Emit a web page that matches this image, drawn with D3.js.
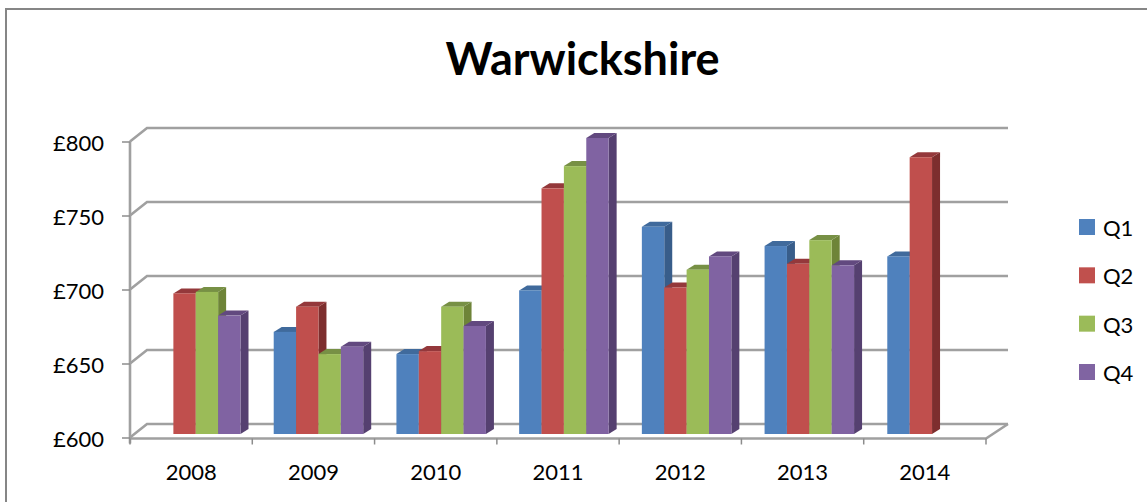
<!DOCTYPE html>
<html>
<head>
<meta charset="utf-8">
<script src="https://cdnjs.cloudflare.com/ajax/libs/d3/7.8.5/d3.min.js"></script>
<style>
    html, body { margin: 0; padding: 0; background: #fff; }
    svg { display: block; }
    text { font-family: Lato, "Open Sans", sans-serif; fill: #000; }
</style>
</head>
<body>
<div id="chart"></div>
<script>
var years = ['2008', '2009', '2010', '2011', '2012', '2013', '2014'];
var quarters = ['Q1', 'Q2', 'Q3', 'Q4'];
var yTicks = [600, 650, 700, 750, 800];

// null = no bar
var q1 = [null, 669, 654, 697, 740, 727, 720];
var q2 = [695, 686, 656, 766, 699, 715, 787];
var q3 = [696, 654, 686, 781, 711, 731, null];
var q4 = [680, 659, 673, 800, 720, 714, null];

var frontColors = ['#4f81bd', '#c0504d', '#9bbb59', '#8064a2'];
var sideColors = ['#385d8a', '#7d2f2d', '#6e8439', '#55406f'];
var topColors = ['#3f6a9c', '#94393a', '#779044', '#62497f'];

var width = 1147, height = 502;
var depthX = 17, depthY = 13.5;   // wall offset of the 3d box
var barDepthX = 8, barDepthY = 5; // depth of a single bar

var svg = d3.select('#chart').append('svg').attr('width', width).attr('height', height);

var defs = svg.append('defs');
defs.append('filter').attr('id', 'soft')
    .attr('x', '-2%').attr('y', '-2%').attr('width', '104%').attr('height', '104%')
    .append('feGaussianBlur').attr('stdDeviation', 0.7);

// outer chart frame, cut off by the screenshot on right and bottom
svg.append('path')
    .attr('d', d3.line()([[6, height], [6, 9], [width, 9]]))
    .attr('fill', 'none').attr('stroke', '#868686').attr('stroke-width', 2);

var x = d3.scaleBand().domain(years).range([130, 986]);
var y = d3.scaleLinear().domain([600, 800]).range([437.5, 141.5]);

// bars sit slightly inside the box, so they get their own scales
var xBars = d3.scaleBand().domain(years).range([151, 1010]);
var xQuarter = d3.scaleBand().domain(quarters).range([0, 89.5]);
var yBar = d3.scaleLinear().domain([600, 800]).range([434, 138]);

var plot = svg.append('g').attr('filter', 'url(#soft)');

// gridlines on back wall and floor
var grid = plot.append('g').attr('stroke', '#a0a0a0').attr('stroke-width', 2.6).attr('fill', 'none');
grid.selectAll('path')
    .data(yTicks)
    .enter()
    .append('path')
    .attr('d', function (d) {
        return d3.line()([
            [x.range()[0], y(d)],
            [x.range()[0] + depthX, y(d) - depthY],
            [x.range()[1] + depthX + 5, y(d) - depthY]
        ]);
    });

// floor front edge and right edge
grid.append('path').attr('d', d3.line()([
    [x.range()[0], y(600) + 1],
    [x.range()[1], y(600) + 1],
    [x.range()[1] + depthX + 5, y(600) - depthY]
]));

// left wall
grid.append('path').attr('d', d3.line()([[x.range()[0], y(800)], [x.range()[0], y(600) + 6]]));

// ticks on the category axis
plot.append('g').selectAll('line')
    .data(years.concat(['end']))
    .enter()
    .append('line')
    .attr('x1', function (d, i) { return x.range()[0] + i * x.step(); })
    .attr('x2', function (d, i) { return x.range()[0] + i * x.step(); })
    .attr('y1', y(600) + 1)
    .attr('y2', y(600) + 7)
    .attr('stroke', '#8c8c8c').attr('stroke-width', 1.5);

// y axis, only ticks and labels are needed from it
var yAxis = d3.axisLeft(y)
    .tickValues(yTicks)
    .tickSize(8)
    .tickPadding(18)
    .tickFormat(function (d) { return '£' + d; });
var yG = svg.append('g').attr('transform', 'translate(130,0)').call(yAxis);
yG.select('.domain').remove();
yG.selectAll('line').attr('stroke', '#8c8c8c').attr('stroke-width', 1.5);
yG.selectAll('text').attr('font-size', 22).attr('font-family', null).attr('dy', '0.4em').attr('x', -26);

var xAxis = d3.axisBottom(x).tickSize(0).tickPadding(27);
var xG = svg.append('g').attr('transform', 'translate(0,' + y(600) + ')').call(xAxis);
xG.select('.domain').remove();
xG.selectAll('text').attr('font-size', 22).attr('font-family', null);

// bars
var rows = [q1, q2, q3, q4];
var barData = [];
years.forEach(function (year, i) {
    quarters.forEach(function (q, j) {
        if (rows[j][i] !== null) {
            barData.push({year: year, quarter: q, index: j, value: rows[j][i]});
        }
    });
});

var bars = plot.append('g').selectAll('g')
    .data(barData)
    .enter()
    .append('g');

function barLeft(d) { return xBars(d.year) + xQuarter(d.quarter); }

bars.append('path')
    .attr('fill', function (d) { return sideColors[d.index]; })
    .attr('d', function (d) {
        var right = barLeft(d) + xQuarter.bandwidth();
        var top = yBar(d.value), base = yBar(600);
        return d3.line()([[right, top], [right + barDepthX, top - barDepthY],
            [right + barDepthX, base - barDepthY], [right, base]]) + 'Z';
    });

bars.append('path')
    .attr('fill', function (d) { return topColors[d.index]; })
    .attr('d', function (d) {
        var left = barLeft(d), right = left + xQuarter.bandwidth();
        var top = yBar(d.value);
        return d3.line()([[left, top], [left + barDepthX, top - barDepthY],
            [right + barDepthX, top - barDepthY], [right, top]]) + 'Z';
    });

bars.append('rect')
    .attr('fill', function (d) { return frontColors[d.index]; })
    .attr('x', barLeft)
    .attr('y', function (d) { return yBar(d.value); })
    .attr('width', xQuarter.bandwidth())
    .attr('height', function (d) { return yBar(600) - yBar(d.value); });

// title
svg.append('text')
    .attr('x', 582.5)
    .attr('y', 75)
    .attr('text-anchor', 'middle')
    .attr('font-size', 45)
    .attr('font-weight', 700)
    .text('Warwickshire');

// legend
var legendY = d3.scalePoint().domain(quarters).range([227, 372]);
var legend = svg.append('g').selectAll('g')
    .data(quarters)
    .enter()
    .append('g')
    .attr('transform', function (d) { return 'translate(1079,' + legendY(d) + ')'; });
legend.append('rect')
    .attr('y', -8)
    .attr('width', 16)
    .attr('height', 16)
    .attr('fill', function (d, i) { return frontColors[i]; });
legend.append('text')
    .attr('x', 24)
    .attr('y', 9)
    .attr('font-size', 22)
    .text(function (d) { return d; });
</script>
</body>
</html>
